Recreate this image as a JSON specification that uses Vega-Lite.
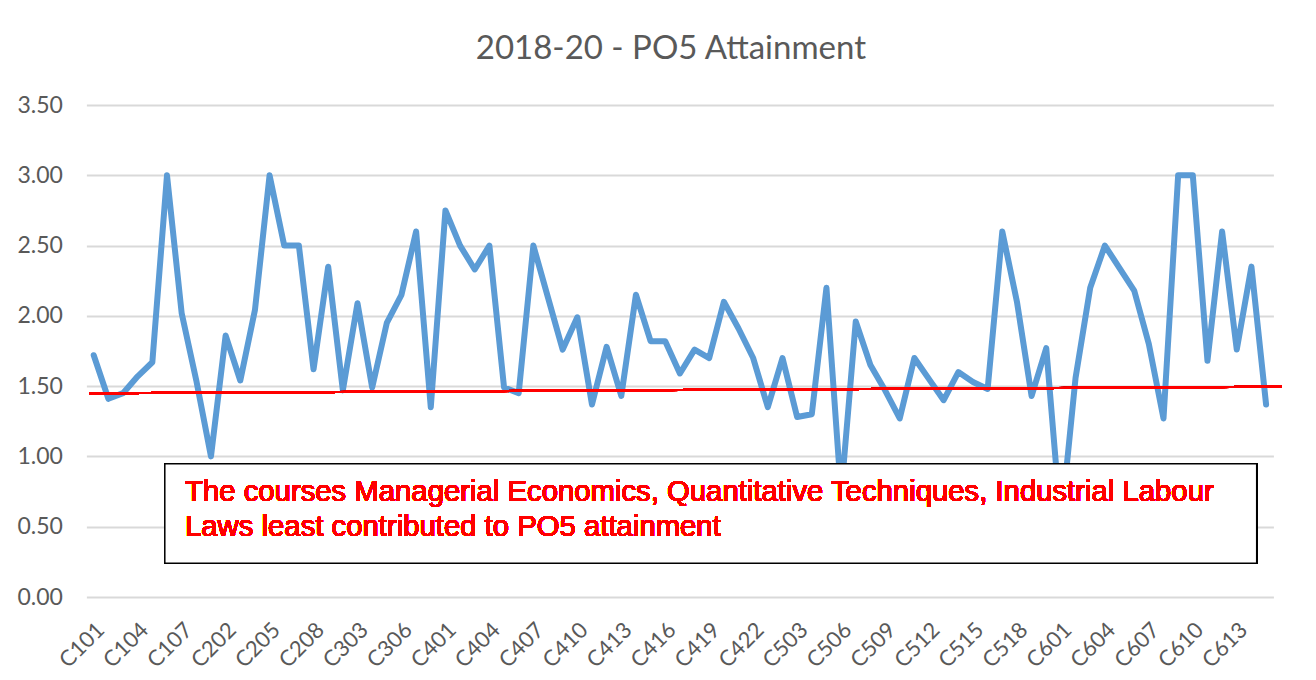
{
  "$schema": "https://vega.github.io/schema/vega-lite/v6.json",
  "width": 1187,
  "height": 492,
  "autosize": {"type": "none"},
  "padding": {"left": 86.4, "top": 105, "right": 42.6, "bottom": 83},
  "background": "white",
  "title": {
    "text": "2018-20 - PO5 Attainment",
    "font": "Lato",
    "fontSize": 33,
    "fontWeight": "normal",
    "color": "#595959",
    "anchor": "middle",
    "baseline": "alphabetic",
    "offset": 2,
    "dx": -9
  },
  "data": {
    "values": [
      {"course": "C101", "value": 1.72}, {"course": "C102", "value": 1.41}, {"course": "C103", "value": 1.45}, {"course": "C104", "value": 1.57},
      {"course": "C105", "value": 1.67}, {"course": "C106", "value": 3.0}, {"course": "C107", "value": 2.02}, {"course": "C108", "value": 1.54},
      {"course": "C201", "value": 1.0}, {"course": "C202", "value": 1.86}, {"course": "C203", "value": 1.54}, {"course": "C204", "value": 2.04},
      {"course": "C205", "value": 3.0}, {"course": "C206", "value": 2.5}, {"course": "C207", "value": 2.5}, {"course": "C208", "value": 1.62},
      {"course": "C301", "value": 2.35}, {"course": "C302", "value": 1.47}, {"course": "C303", "value": 2.09}, {"course": "C304", "value": 1.49},
      {"course": "C305", "value": 1.95}, {"course": "C306", "value": 2.15}, {"course": "C307", "value": 2.6}, {"course": "C308", "value": 1.35},
      {"course": "C401", "value": 2.75}, {"course": "C402", "value": 2.5}, {"course": "C403", "value": 2.33}, {"course": "C404", "value": 2.5},
      {"course": "C405", "value": 1.49}, {"course": "C406", "value": 1.45}, {"course": "C407", "value": 2.5}, {"course": "C408", "value": 2.13},
      {"course": "C409", "value": 1.76}, {"course": "C410", "value": 1.99}, {"course": "C411", "value": 1.37}, {"course": "C412", "value": 1.78},
      {"course": "C413", "value": 1.43}, {"course": "C414", "value": 2.15}, {"course": "C415", "value": 1.82}, {"course": "C416", "value": 1.82},
      {"course": "C417", "value": 1.59}, {"course": "C418", "value": 1.76}, {"course": "C419", "value": 1.7}, {"course": "C420", "value": 2.1},
      {"course": "C421", "value": 1.91}, {"course": "C422", "value": 1.7},
      {"course": "C501", "value": 1.35}, {"course": "C502", "value": 1.7}, {"course": "C503", "value": 1.28}, {"course": "C504", "value": 1.3},
      {"course": "C505", "value": 2.2}, {"course": "C506", "value": 0.73}, {"course": "C507", "value": 1.96}, {"course": "C508", "value": 1.65},
      {"course": "C509", "value": 1.47}, {"course": "C510", "value": 1.27}, {"course": "C511", "value": 1.7}, {"course": "C512", "value": 1.55},
      {"course": "C513", "value": 1.4}, {"course": "C514", "value": 1.6}, {"course": "C515", "value": 1.53}, {"course": "C516", "value": 1.48},
      {"course": "C517", "value": 2.6}, {"course": "C518", "value": 2.1}, {"course": "C519", "value": 1.43}, {"course": "C520", "value": 1.77},
      {"course": "C601", "value": 0.52}, {"course": "C602", "value": 1.56}, {"course": "C603", "value": 2.2}, {"course": "C604", "value": 2.5},
      {"course": "C605", "value": 2.34}, {"course": "C606", "value": 2.18}, {"course": "C607", "value": 1.8}, {"course": "C608", "value": 1.27},
      {"course": "C609", "value": 3.0}, {"course": "C610", "value": 3.0}, {"course": "C611", "value": 1.68}, {"course": "C612", "value": 2.6},
      {"course": "C613", "value": 1.76}, {"course": "C614", "value": 2.35}, {"course": "C615", "value": 1.37}
    ]
  },
  "layer": [
    {
      "mark": {"type": "line", "color": "#5b9bd5", "strokeWidth": 6, "strokeJoin": "round", "strokeCap": "round"},
      "encoding": {
        "x": {
          "field": "course",
          "type": "ordinal",
          "sort": null,
          "scale": {
            "type": "band",
            "paddingInner": 0,
            "paddingOuter": 0,
            "domain": ["C101","C102","C103","C104","C105","C106","C107","C108","C201","C202","C203","C204","C205","C206","C207","C208","C301","C302","C303","C304","C305","C306","C307","C308","C401","C402","C403","C404","C405","C406","C407","C408","C409","C410","C411","C412","C413","C414","C415","C416","C417","C418","C419","C420","C421","C422","C501","C502","C503","C504","C505","C506","C507","C508","C509","C510","C511","C512","C513","C514","C515","C516","C517","C518","C519","C520","C601","C602","C603","C604","C605","C606","C607","C608","C609","C610","C611","C612","C613","C614","C615"]
          },
          "axis": {
            "values": ["C101","C104","C107","C202","C205","C208","C303","C306","C401","C404","C407","C410","C413","C416","C419","C422","C503","C506","C509","C512","C515","C518","C601","C604","C607","C610","C613"],
            "labelAngle": -45,
            "labelFont": "Lato",
            "labelFontSize": 22,
            "labelColor": "#595959",
            "ticks": false,
            "domain": false,
            "grid": false,
            "title": null,
            "labelPadding": 22
          }
        },
        "y": {
          "field": "value",
          "type": "quantitative",
          "scale": {"domain": [0, 3.5], "nice": false},
          "axis": {
            "values": [0, 0.5, 1, 1.5, 2, 2.5, 3, 3.5],
            "format": ".2f",
            "labelFont": "Lato",
            "labelFontSize": 23,
            "labelColor": "#595959",
            "ticks": false,
            "domain": false,
            "gridColor": "#d9d9d9",
            "gridWidth": 1.8,
            "title": null,
            "labelPadding": 24
          }
        }
      }
    },
    {
      "mark": {"type": "rule", "color": "#ff0000", "strokeWidth": 2},
      "encoding": {
        "x": {"datum": "C101", "bandPosition": 0.2},
        "x2": {"datum": "C615", "bandPosition": 1.53},
        "y": {"datum": 1.449},
        "y2": {"datum": 1.496}
      }
    },
    {
      "mark": {"type": "rect", "fill": "white", "stroke": "black", "strokeWidth": 1.2},
      "encoding": {
        "x": {"datum": "C106", "bandPosition": 0.36},
        "x2": {"datum": "C614", "bandPosition": 0.85},
        "y": {"datum": 0.946},
        "y2": {"datum": 0.242}
      }
    },
    {
      "mark": {
        "type": "text",
        "text": ["The courses Managerial Economics, Quantitative Techniques, Industrial Labour", "Laws least contributed to PO5 attainment"],
        "font": "Liberation Sans",
        "fontSize": 29.3,
        "fontWeight": 400,
        "fill": "#ff0000",
        "strokeWidth": 0,
        "align": "left",
        "baseline": "alphabetic",
        "lineHeight": 35.3
      },
      "encoding": {
        "x": {"datum": "C107", "bandPosition": 0.73},
        "y": {"datum": 0.685}
      }
    }
  ],
  "config": {"view": {"stroke": null}}
}
